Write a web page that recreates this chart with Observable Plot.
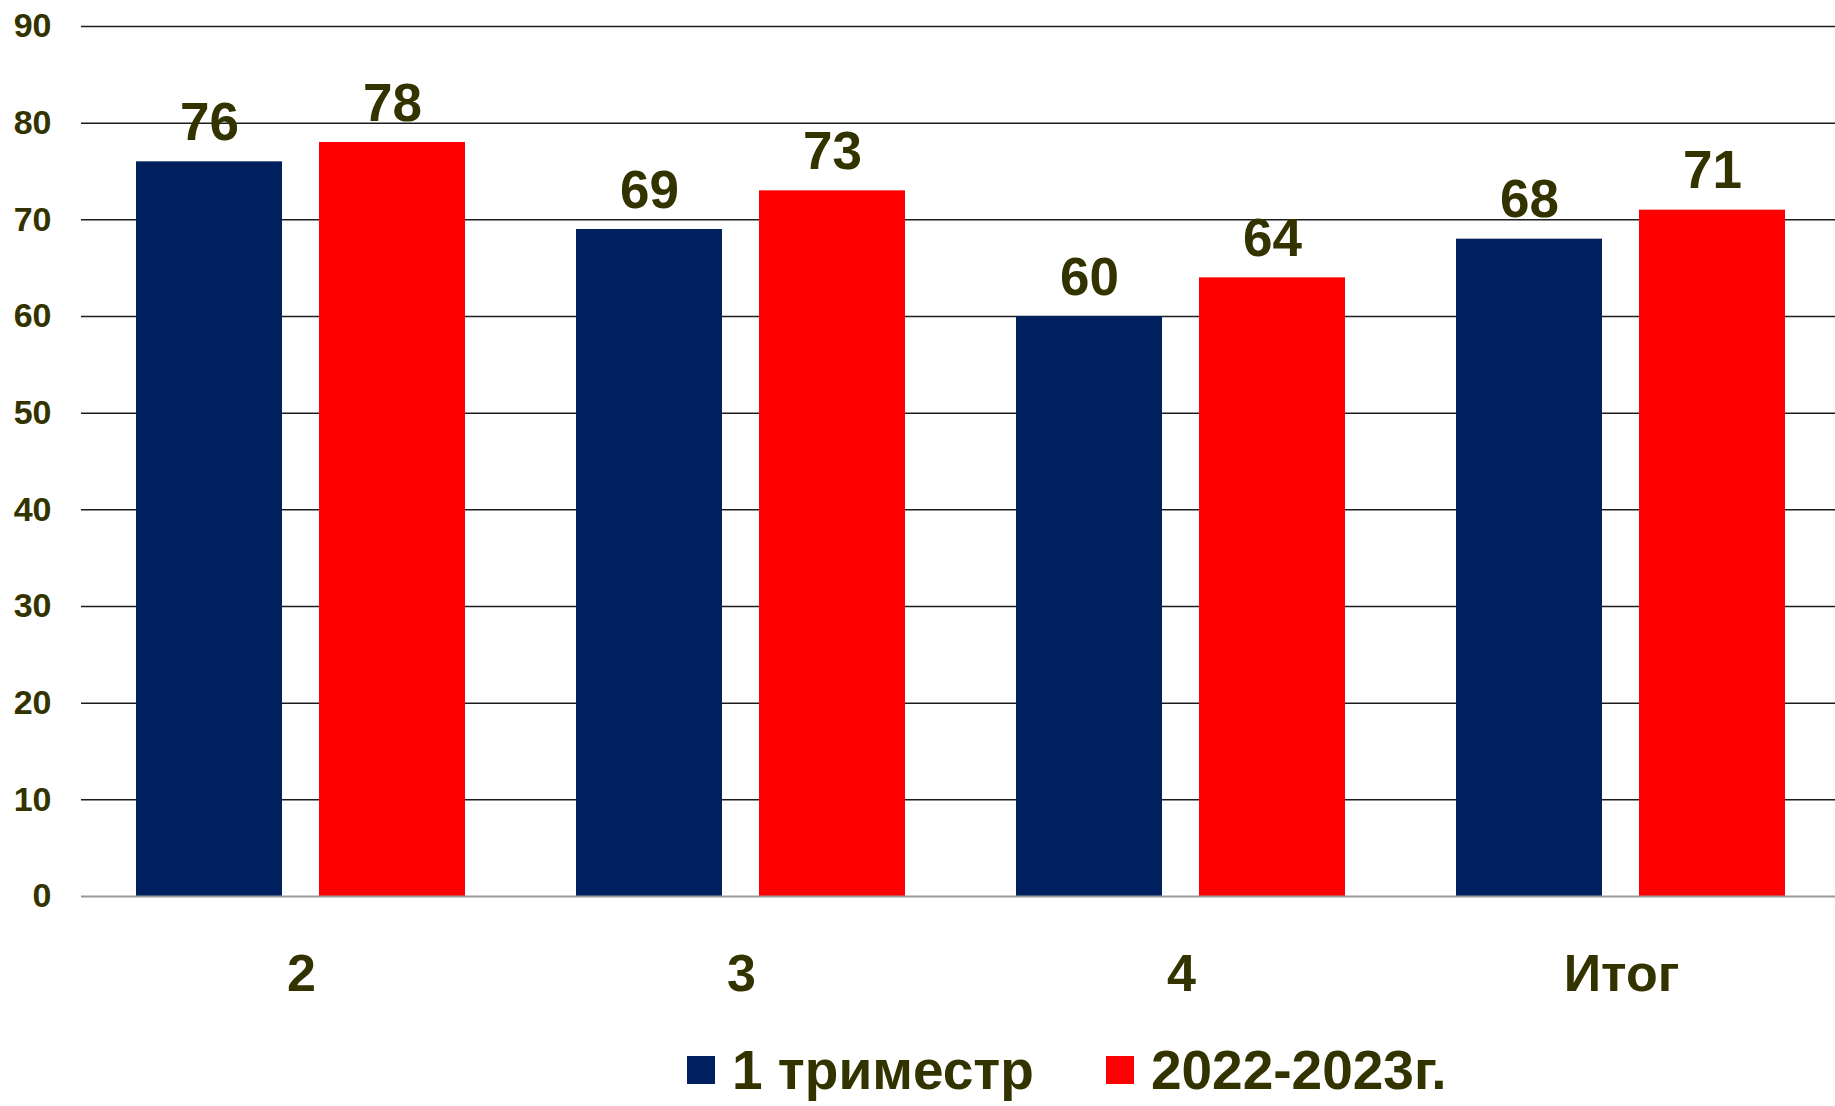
<!DOCTYPE html>
<html>
<head>
<meta charset="utf-8">
<script src="https://cdn.jsdelivr.net/npm/d3@7"></script>
<script src="https://cdn.jsdelivr.net/npm/@observablehq/plot@0.6"></script>
<style>
  html, body { margin: 0; padding: 0; background: #fff; }
  body { width: 1835px; height: 1106px; position: relative; overflow: hidden; font-family: "Liberation Sans", Arial, sans-serif; }
  #chart { width: 1835px; overflow: hidden; }
  #chart svg { max-width: none !important; width: 1841px !important; height: 1020px !important; display: block; }
  #legend { position: absolute; left: 687px; top: 1038px; display: flex; align-items: center; font-weight: bold; font-size: 55px; color: #333300; }
  #legend .item { display: flex; align-items: center; }
  #legend .sw { width: 28px; height: 28px; display: inline-block; margin-right: 17px; }
</style>
</head>
<body>
<div id="chart"></div>
<div id="legend"></div>
<script>
const categories = ["2", "3", "4", "Итог"];
const seriesNames = ["1 триместр", "2022-2023г."];
const trimesterValues = [76, 69, 60, 68];
const yearValues = [78, 73, 64, 71];
const seriesColors = ["#002060", "#FF0000"];
const yTicks = [0, 10, 20, 30, 40, 50, 60, 70, 80, 90];

const data = categories.flatMap((c, i) => [
  {cat: c, s: seriesNames[0], v: trimesterValues[i]},
  {cat: c, s: seriesNames[1], v: yearValues[i]}
]);

const chart = Plot.plot({
  width: 1841,
  height: 1020,
  marginLeft: 81,
  marginRight: 0,
  marginTop: 26,
  marginBottom: 124,
  style: {fontFamily: "'Liberation Sans', Arial, sans-serif", fontWeight: "bold", color: "#333300", background: "white", maxWidth: "none"},
  fx: {domain: categories, padding: 0, label: null},
  x: {domain: seriesNames, paddingInner: 0.2, paddingOuter: 0.3, axis: null},
  y: {domain: [0, 90], label: null},
  color: {domain: seriesNames, range: seriesColors},
  marks: [
    Plot.ruleY(yTicks.filter(t => t > 0), {stroke: "#1c1c1c", strokeWidth: 1.5}),
    Plot.barY(data, {fx: "cat", x: "s", y: "v", fill: "s"}),
    Plot.ruleY([0], {stroke: "#9a9a9a", strokeWidth: 2}),
    Plot.text(data, {fx: "cat", x: "s", y: "v", text: d => String(d.v), lineAnchor: "bottom", dy: -22, fontSize: 53, fontWeight: "bold", fill: "#333300"}),
    Plot.axisY(yTicks, {anchor: "left", tickSize: 0, tickPadding: 30, fontSize: 34, fontWeight: "bold", label: null}),
    Plot.axisFx({anchor: "bottom", tickSize: 0, tickPadding: 58, fontSize: 52, fontWeight: "bold", label: null})
  ]
});
document.getElementById("chart").appendChild(chart);

const legend = document.getElementById("legend");
seriesNames.forEach((name, i) => {
  const item = document.createElement("div");
  item.className = "item";
  item.style.marginRight = i === 0 ? "72px" : "0";
  const sw = document.createElement("span");
  sw.className = "sw";
  sw.style.background = seriesColors[i];
  const label = document.createElement("span");
  label.textContent = name;
  item.appendChild(sw);
  item.appendChild(label);
  legend.appendChild(item);
});
</script>
</body>
</html>
